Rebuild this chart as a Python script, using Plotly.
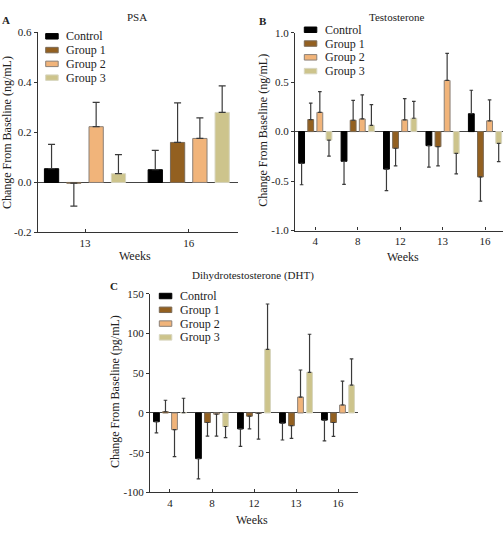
import plotly.graph_objects as go

W, H = 503, 533

groups = ["Control", "Group 1", "Group 2", "Group 3"]
colors = ["#000000", "#936020", "#f1b47a", "#cdc48c"]
outline = ["#000000", "#7b6a55", "#8a8078", "#d8d6c0"]

# Panel A: PSA (ng/mL)
psa_weeks = ["13", "16"]
psa_mean = {
    "Control": [0.055, 0.051],
    "Group 1": [-0.003, 0.160],
    "Group 2": [0.223, 0.176],
    "Group 3": [0.035, 0.280],
}
psa_err = {
    "Control": [0.097, 0.077],
    "Group 1": [0.092, 0.158],
    "Group 2": [0.097, 0.082],
    "Group 3": [0.076, 0.106],
}

# Panel B: Testosterone (ng/mL)
weeks = ["4", "8", "12", "13", "16"]
tes_mean = {
    "Control": [-0.320, -0.300, -0.379, -0.142, 0.181],
    "Group 1": [0.122, 0.115, -0.168, -0.152, -0.458],
    "Group 2": [0.194, 0.128, 0.119, 0.517, 0.109],
    "Group 3": [-0.086, 0.063, 0.135, -0.221, -0.119],
}
tes_err = {
    "Control": [0.217, 0.234, 0.217, 0.217, 0.237],
    "Group 1": [0.165, 0.201, 0.178, 0.194, 0.244],
    "Group 2": [0.211, 0.244, 0.214, 0.274, 0.211],
    "Group 3": [0.161, 0.210, 0.171, 0.207, 0.184],
}

# Panel C: DHT (pg/mL)
dht_mean = {
    "Control": [-11, -57.4, -20, -12.7, -9],
    "Group 1": [1.5, -12, -4, -16, -12],
    "Group 2": [-21, -1.5, -0.5, 20, 10],
    "Group 3": [0.5, -17, 80, 51, 35],
}
dht_err = {
    "Control": [14, 25.6, 22, 21.3, 26],
    "Group 1": [14.5, 17, 16, 16, 17.5],
    "Group 2": [34, 27.5, 32.5, 34, 30],
    "Group 3": [18, 14, 57, 48, 33],
}

psa_ticks = [-0.2, 0.0, 0.2, 0.4, 0.6]
psa_ticktext = ["-0.2", "0.0", "0.2", "0.4", "0.6"]
tes_ticks = [-1.0, -0.5, 0.0, 0.5, 1.0]
tes_ticktext = ["-1.0", "-0.5", "0.0", "0.5", "1.0"]
dht_ticks = [-100, -50, 0, 50, 100, 150]
dht_ticktext = ["-100", "-50", "0", "50", "100", "150"]

FONT = "Liberation Serif"
TXT = "#222222"


def px(x):
    return x / W


def py(y):
    return (H - y) / H


fig = go.Figure()

panels = [
    ("x", "y", psa_weeks, psa_mean, psa_err, 3.5),
    ("x2", "y2", weeks, tes_mean, tes_err, 1.8),
    ("x3", "y3", weeks, dht_mean, dht_err, 1.8),
]

for xa, ya, cats, means, errs, capw in panels:
    for g, c, oc in zip(groups, colors, outline):
        m = means[g]
        e = errs[g]
        plus = [ei if mi >= 0 else 0 for mi, ei in zip(m, e)]
        minus = [ei if mi < 0 else 0 for mi, ei in zip(m, e)]
        fig.add_trace(go.Bar(
            x=cats, y=m, name=g, xaxis=xa, yaxis=ya, showlegend=False,
            marker=dict(color=c, line=dict(color=oc, width=1)),
            error_y=dict(type="data", symmetric=False, array=plus, arrayminus=minus,
                         color="#3a3a3a", thickness=1.2, width=capw),
        ))

axis_common = dict(showline=True, linecolor="#333333", linewidth=1.2,
                   showgrid=False, tickfont=dict(family=FONT, size=11, color=TXT),
                   tickcolor="#333333", fixedrange=True)

fig.update_layout(
    width=W, height=H,
    margin=dict(l=0, r=0, t=0, b=0),
    paper_bgcolor="white", plot_bgcolor="white",
    barmode="group", bargap=0.14, bargroupgap=0.36,
    font=dict(family=FONT, color=TXT),
    xaxis=dict(domain=[px(37.7), px(238)], anchor="y", range=[-0.456, 1.475],
               ticks="inside", ticklen=3, **axis_common),
    yaxis=dict(domain=[py(231.7), py(27)], anchor="x", range=[-0.2, 0.6],
               tickvals=psa_ticks, ticktext=psa_ticktext, ticks="outside", ticklen=3,
               zeroline=True, zerolinecolor="#444444", zerolinewidth=1.2, **axis_common),
    xaxis2=dict(domain=[px(295), 1.0], anchor="y2", range=[-0.478, 4.424],
                ticks="inside", ticklen=3, **axis_common),
    yaxis2=dict(domain=[py(229.7), py(27.3)], anchor="x2", range=[-1.0, 1.0],
                tickvals=tes_ticks, ticktext=tes_ticktext, ticks="outside", ticklen=3,
                zeroline=True, zerolinecolor="#444444", zerolinewidth=1.2, **axis_common),
    xaxis3=dict(domain=[px(150), px(358)], anchor="y3", range=[-0.476, 4.476],
                ticks="inside", ticklen=3, **axis_common),
    yaxis3=dict(domain=[py(497.7), py(294.3)], anchor="x3", range=[-100, 150],
                tickvals=dht_ticks, ticktext=dht_ticktext, ticks="outside", ticklen=3,
                zeroline=True, zerolinecolor="#444444", zerolinewidth=1.2, **axis_common),
)

ann = []


def text(x, y, s, size=12, angle=0, bold=False, xanchor="center"):
    ann.append(dict(x=px(x), y=py(y), xref="paper", yref="paper", text=("<b>%s</b>" % s) if bold else s,
                    showarrow=False, xanchor=xanchor, yanchor="middle", textangle=angle,
                    font=dict(family=FONT, size=size, color=TXT)))


# panel letters & titles
text(5.5, 14, "A", 11, bold=True)
text(263.3, 15, "B", 11, bold=True)
text(113.8, 286, "C", 11, bold=True)
text(136.7, 11.7, "PSA", 11)
text(396.7, 11, "Testosterone", 11)
text(253.3, 276, "Dihydrotestosterone (DHT)", 11)
# axis titles
text(7, 130, "Change From Baseline (ng/mL)", 12, angle=-90)
text(262.7, 127, "Change From Baseline (ng/mL)", 12, angle=-90)
text(115, 395, "Change From Baseline (pg/mL)", 12, angle=-90)
text(135, 256, "Weeks", 12)
text(403, 256.7, "Weeks", 12)
text(251.7, 526, "Weeks", 12)

# legends (swatch + label) for each panel
shapes = []
legend_specs = [
    (45.7, 31.0),
    (304.3, 24.3),
    (159.3, 296.7),
]
row_gap = 14.1
for lx, ly in legend_specs:
    for i, (g, c, oc) in enumerate(zip(groups, colors, outline)):
        yc = ly + i * row_gap
        shapes.append(dict(type="rect", xref="paper", yref="paper",
                           x0=px(lx), x1=px(lx + 12.5), y0=py(yc + 2.8), y1=py(yc - 2.8),
                           fillcolor=c, line=dict(color=oc, width=1)))
        text(lx + 18.5, yc, g, 12, xanchor="left")

fig.update_layout(annotations=ann, shapes=shapes)

fig.write_html("out.html")
